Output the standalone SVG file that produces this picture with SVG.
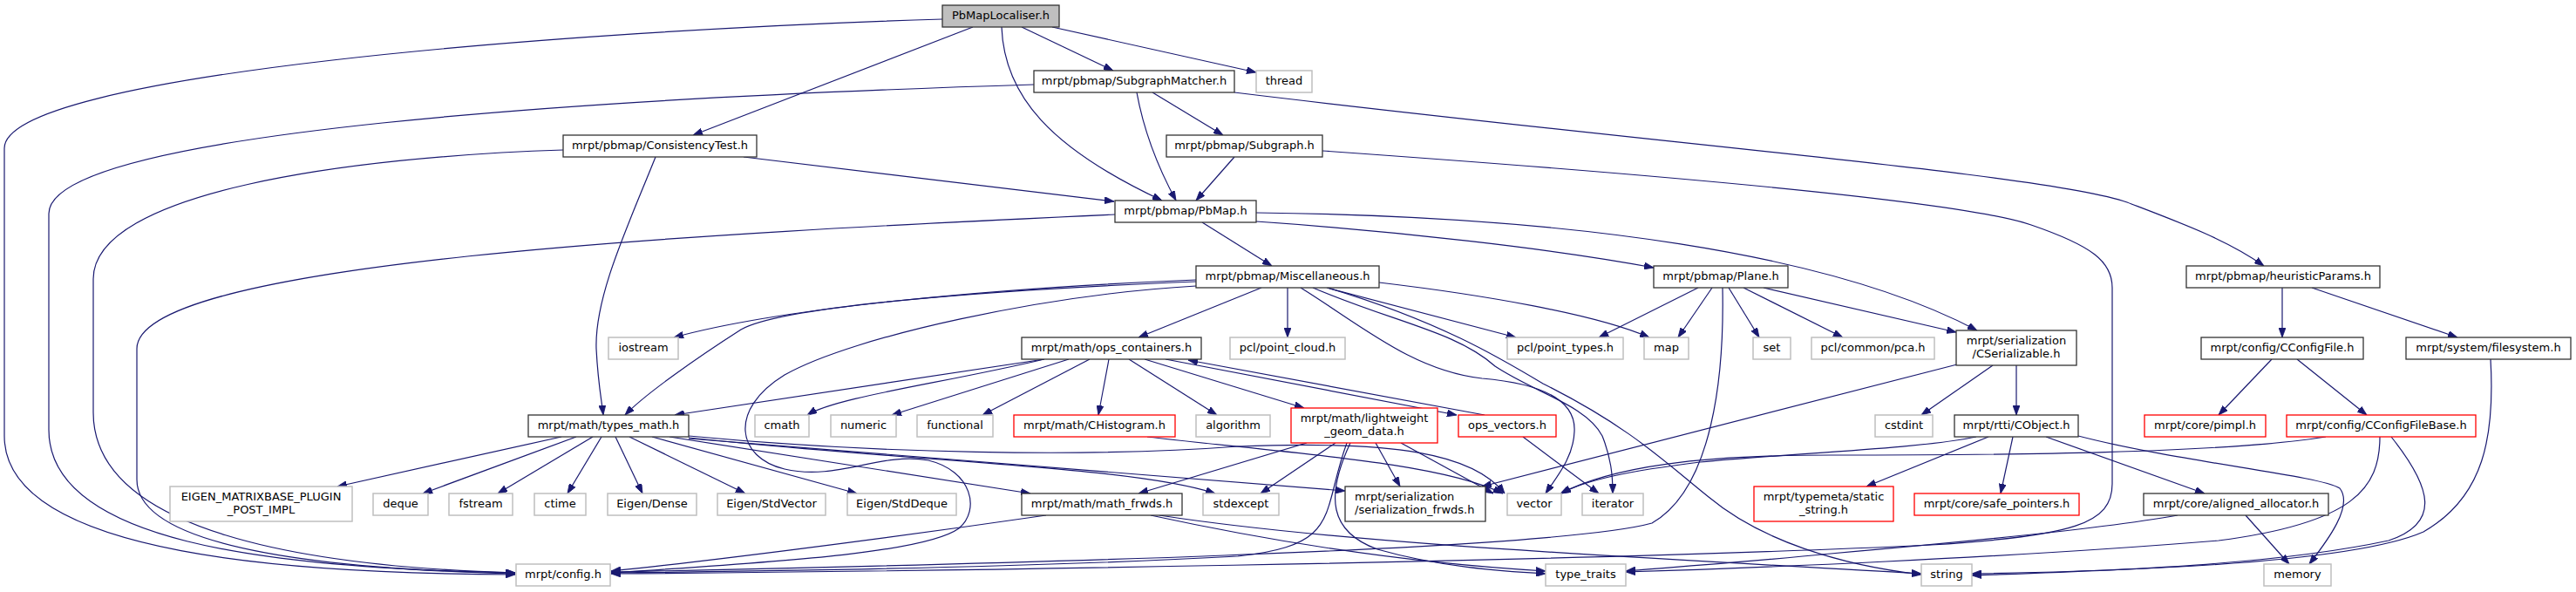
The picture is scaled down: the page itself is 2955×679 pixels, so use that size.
<svg xmlns="http://www.w3.org/2000/svg" width="2955" height="679" viewBox="0 0 2955 679">
<style>
.bg{fill:#ffffff}
.n rect{fill:#ffffff;stroke:#333333;stroke-width:1.3}
.n.root rect{fill:#bfbfbf}
.n.ext rect{stroke:#bfbfbf;stroke-width:1.5}
.n.trunc rect{stroke:#ff0000;stroke-width:1.3}
.n text{font-family:"DejaVu Sans","Liberation Sans",sans-serif;font-size:13px;fill:#000000;text-anchor:middle}
.n text.l{text-anchor:start}
#edges path{fill:none;stroke:#191970;stroke-width:1.2}
</style>
<defs>
<marker id="ah" markerUnits="userSpaceOnUse" markerWidth="11" markerHeight="8" refX="11" refY="4" orient="auto">
<path d="M0,0 L11,4 L0,8 z" fill="#191970" stroke="#191970" stroke-width="0.8"/>
</marker>
</defs>
<rect class="bg" x="0" y="0" width="2955" height="679"/>
<g id="edges" marker-end="url(#ah)">
<path marker-end="url(#ah)" d="M1081,22 C650,35 5,85 5,170 L5,500 C5,640 350,658 591,659"/>
<path marker-end="url(#ah)" d="M1116,31 L795,155"/>
<path marker-end="url(#ah)" d="M1149,31 C1152,110 1205,170 1333,230"/>
<path marker-end="url(#ah)" d="M1172,31 L1277,81"/>
<path marker-end="url(#ah)" d="M1207,31 L1441,83"/>
<path marker-end="url(#ah)" d="M1186,97 C700,112 56,150 56,245 L56,493 C56,620 300,652 591,657"/>
<path marker-end="url(#ah)" d="M1304,106 C1312,150 1330,195 1349,230"/>
<path marker-end="url(#ah)" d="M1322,106 L1403,155"/>
<path marker-end="url(#ah)" d="M1416,106 C1900,165 2350,200 2440,232 C2500,255 2555,275 2597,305"/>
<path marker-end="url(#ah)" d="M646,172 C400,180 107,220 107,320 L107,473 C107,610 350,650 591,657"/>
<path marker-end="url(#ah)" d="M1279,246 C800,268 157,300 157,400 L157,550 C157,625 350,652 591,658"/>
<path marker-end="url(#ah)" d="M853,180 L1278,231"/>
<path marker-end="url(#ah)" d="M752,180 C720,260 682,340 684,400 C686,440 690,458 692,476"/>
<path marker-end="url(#ah)" d="M1416,180 L1372,230"/>
<path marker-end="url(#ah)" d="M1517,173 C1900,200 2250,230 2330,258 C2400,282 2423,300 2423,330 L2423,555 C2423,600 2380,615 2215,625 C1800,645 1000,656 701,658"/>
<path marker-end="url(#ah)" d="M1379,255 L1459,305"/>
<path marker-end="url(#ah)" d="M1441,254 C1600,265 1780,285 1897,307"/>
<path marker-end="url(#ah)" d="M1441,244 C1800,248 2100,290 2268,379"/>
<path marker-end="url(#ah)" d="M1372,321 C1150,330 900,352 773,387"/>
<path marker-end="url(#ah)" d="M1372,323 C1150,332 900,350 850,378 C800,410 740,452 717,476"/>
<path marker-end="url(#ah)" d="M1372,328 C1200,338 980,385 900,430 C835,470 845,525 900,538 C960,552 1010,518 1065,528 C1115,540 1125,585 1100,606 C1060,635 880,645 701,657"/>
<path marker-end="url(#ah)" d="M1447,330 L1306,387"/>
<path marker-end="url(#ah)" d="M1477,330 L1477,387"/>
<path marker-end="url(#ah)" d="M1522,330 L1739,387"/>
<path marker-end="url(#ah)" d="M1582,324 C1700,338 1830,360 1892,387"/>
<path marker-end="url(#ah)" d="M1492,330 C1560,372 1620,425 1700,434 C1770,440 1808,460 1806,495 C1805,525 1785,548 1773,566"/>
<path marker-end="url(#ah)" d="M1506,330 C1600,370 1670,380 1715,420 C1760,450 1820,465 1838,500 C1848,525 1850,545 1850,566"/>
<path marker-end="url(#ah)" d="M1523,330 C1650,368 1720,410 1770,440 C1870,490 1910,530 1960,570 C2020,620 2110,648 2204,659"/>
<path marker-end="url(#ah)" d="M1948,330 L1834,387"/>
<path marker-end="url(#ah)" d="M1964,330 L1925,387"/>
<path marker-end="url(#ah)" d="M1976,330 C1978,430 1965,560 1895,600 C1780,632 1100,648 701,656"/>
<path marker-end="url(#ah)" d="M1983,330 L2018,387"/>
<path marker-end="url(#ah)" d="M2000,330 L2114,387"/>
<path marker-end="url(#ah)" d="M2023,330 L2244,381"/>
<path marker-end="url(#ah)" d="M2245,418 L1700,558"/>
<path marker-end="url(#ah)" d="M2286,419 L2204,476"/>
<path marker-end="url(#ah)" d="M2313,419 L2313,476"/>
<path marker-end="url(#ah)" d="M2618,330 L2618,387"/>
<path marker-end="url(#ah)" d="M2652,330 L2819,387"/>
<path marker-end="url(#ah)" d="M2606,412 L2545,476"/>
<path marker-end="url(#ah)" d="M2635,412 L2715,476"/>
<path marker-end="url(#ah)" d="M2857,412 C2862,500 2850,570 2780,610 C2700,645 2450,655 2262,658"/>
<path marker-end="url(#ah)" d="M2668,501 C2550,520 2300,522 2100,522 C1950,522 1850,535 1790,566"/>
<path marker-end="url(#ah)" d="M2730,501 C2730,560 2700,600 2545,620 C2300,640 2000,652 1865,656"/>
<path marker-end="url(#ah)" d="M2743,501 C2790,560 2800,600 2740,620 C2600,650 2400,655 2262,660"/>
<path marker-end="url(#ah)" d="M2267,501 C2200,515 2050,520 1950,530 C1870,540 1820,550 1791,566"/>
<path marker-end="url(#ah)" d="M2281,501 L2141,558"/>
<path marker-end="url(#ah)" d="M2309,501 L2295,566"/>
<path marker-end="url(#ah)" d="M2347,501 L2529,566"/>
<path marker-end="url(#ah)" d="M2384,500 C2500,530 2660,545 2684,560 C2700,580 2670,620 2649,647"/>
<path marker-end="url(#ah)" d="M2576,591 L2626,647"/>
<path marker-end="url(#ah)" d="M2498,591 C2420,605 2250,622 2100,635 C2000,645 1900,652 1865,655"/>
<path marker-end="url(#ah)" d="M644,501 L387,558"/>
<path marker-end="url(#ah)" d="M661,501 L485,566"/>
<path marker-end="url(#ah)" d="M680,501 L571,566"/>
<path marker-end="url(#ah)" d="M690,501 L651,566"/>
<path marker-end="url(#ah)" d="M706,501 L737,566"/>
<path marker-end="url(#ah)" d="M722,501 L855,566"/>
<path marker-end="url(#ah)" d="M748,501 L983,566"/>
<path marker-end="url(#ah)" d="M768,501 L1182,566"/>
<path marker-end="url(#ah)" d="M790,502 C1050,530 1300,535 1394,566"/>
<path marker-end="url(#ah)" d="M790,500 C1000,520 1250,525 1420,512 C1600,505 1690,520 1726,566"/>
<path marker-end="url(#ah)" d="M790,503 L1543,563"/>
<path marker-end="url(#ah)" d="M1198,412 L774,476"/>
<path marker-end="url(#ah)" d="M1198,412 C1080,440 960,455 926,476"/>
<path marker-end="url(#ah)" d="M1226,412 L1023,476"/>
<path marker-end="url(#ah)" d="M1250,412 L1127,476"/>
<path marker-end="url(#ah)" d="M1272,412 L1260,476"/>
<path marker-end="url(#ah)" d="M1295,412 L1396,476"/>
<path marker-end="url(#ah)" d="M1313,412 L1496,468"/>
<path marker-end="url(#ah)" d="M1337,412 L1671,476"/>
<path marker-end="url(#ah)" d="M1703,476 L1363,413"/>
<path marker-end="url(#ah)" d="M1747,501 L1834,566"/>
<path marker-end="url(#ah)" d="M1316,501 C1480,520 1650,530 1724,566"/>
<path marker-end="url(#ah)" d="M1499,508 L1306,566"/>
<path marker-end="url(#ah)" d="M1532,508 L1446,566"/>
<path marker-end="url(#ah)" d="M1549,508 C1520,570 1525,610 1580,630 C1650,650 1720,655 1773,658"/>
<path marker-end="url(#ah)" d="M1578,508 L1606,558"/>
<path marker-end="url(#ah)" d="M1607,508 L1713,566"/>
<path marker-end="url(#ah)" d="M1545,508 C1515,590 1540,625 1420,638 C1200,650 900,655 701,657"/>
<path marker-end="url(#ah)" d="M1200,591 C1000,620 800,645 701,655"/>
<path marker-end="url(#ah)" d="M1320,591 C1500,630 1650,648 1773,655"/>
<path marker-end="url(#ah)" d="M1330,591 C1550,625 1900,640 2204,658"/>
</g>
<g id="n0" class="n root"><rect x="1081" y="6" width="134" height="25"/><text x="1148" y="22">PbMapLocaliser.h</text></g>
<g id="n1" class="n"><rect x="1186" y="81" width="230" height="25"/><text x="1301" y="97">mrpt/pbmap/SubgraphMatcher.h</text></g>
<g id="n2" class="n ext"><rect x="1441" y="81" width="64" height="25"/><text x="1473" y="97">thread</text></g>
<g id="n3" class="n"><rect x="646" y="155" width="222" height="25"/><text x="757" y="171">mrpt/pbmap/ConsistencyTest.h</text></g>
<g id="n4" class="n"><rect x="1338" y="155" width="179" height="25"/><text x="1427.5" y="171">mrpt/pbmap/Subgraph.h</text></g>
<g id="n5" class="n"><rect x="1279" y="230" width="162" height="25"/><text x="1360" y="246">mrpt/pbmap/PbMap.h</text></g>
<g id="n6" class="n"><rect x="1372" y="305" width="210" height="25"/><text x="1477" y="321">mrpt/pbmap/Miscellaneous.h</text></g>
<g id="n7" class="n"><rect x="1897" y="305" width="154" height="25"/><text x="1974" y="321">mrpt/pbmap/Plane.h</text></g>
<g id="n8" class="n"><rect x="2508" y="305" width="222" height="25"/><text x="2619" y="321">mrpt/pbmap/heuristicParams.h</text></g>
<g id="n9" class="n ext"><rect x="698" y="387" width="80" height="25"/><text x="738" y="403">iostream</text></g>
<g id="n10" class="n"><rect x="1172" y="387" width="206" height="25"/><text x="1275" y="403">mrpt/math/ops_containers.h</text></g>
<g id="n11" class="n ext"><rect x="1411" y="387" width="132" height="25"/><text x="1477" y="403">pcl/point_cloud.h</text></g>
<g id="n12" class="n ext"><rect x="1729" y="387" width="133" height="25"/><text x="1795.5" y="403">pcl/point_types.h</text></g>
<g id="n13" class="n ext"><rect x="1886" y="387" width="51" height="25"/><text x="1911.5" y="403">map</text></g>
<g id="n14" class="n ext"><rect x="2011" y="387" width="43" height="25"/><text x="2032.5" y="403">set</text></g>
<g id="n15" class="n ext"><rect x="2078" y="387" width="141" height="25"/><text x="2148.5" y="403">pcl/common/pca.h</text></g>
<g id="n16" class="n"><rect x="2244" y="379" width="138" height="40"/><text x="2313" y="395">mrpt/serialization</text><text x="2313" y="410">/CSerializable.h</text></g>
<g id="n17" class="n"><rect x="2525" y="387" width="186" height="25"/><text x="2618" y="403">mrpt/config/CConfigFile.h</text></g>
<g id="n18" class="n"><rect x="2760" y="387" width="189" height="25"/><text x="2854.5" y="403">mrpt/system/filesystem.h</text></g>
<g id="n19" class="n"><rect x="606" y="476" width="184" height="25"/><text x="698" y="492">mrpt/math/types_math.h</text></g>
<g id="n20" class="n ext"><rect x="866" y="476" width="62" height="25"/><text x="897" y="492">cmath</text></g>
<g id="n21" class="n ext"><rect x="953" y="476" width="75" height="25"/><text x="990.5" y="492">numeric</text></g>
<g id="n22" class="n ext"><rect x="1052" y="476" width="87" height="25"/><text x="1095.5" y="492">functional</text></g>
<g id="n23" class="n trunc"><rect x="1163" y="476" width="185" height="25"/><text x="1255.5" y="492">mrpt/math/CHistogram.h</text></g>
<g id="n24" class="n ext"><rect x="1372" y="476" width="85" height="25"/><text x="1414.5" y="492">algorithm</text></g>
<g id="n25" class="n trunc"><rect x="1481" y="468" width="168" height="40"/><text x="1565" y="484">mrpt/math/lightweight</text><text x="1565" y="499">_geom_data.h</text></g>
<g id="n26" class="n trunc"><rect x="1673" y="476" width="112" height="25"/><text x="1729" y="492">ops_vectors.h</text></g>
<g id="n27" class="n ext"><rect x="2151" y="476" width="66" height="25"/><text x="2184" y="492">cstdint</text></g>
<g id="n28" class="n"><rect x="2242" y="476" width="142" height="25"/><text x="2313" y="492">mrpt/rtti/CObject.h</text></g>
<g id="n29" class="n trunc"><rect x="2460" y="476" width="139" height="25"/><text x="2529.5" y="492">mrpt/core/pimpl.h</text></g>
<g id="n30" class="n trunc"><rect x="2623" y="476" width="217" height="25"/><text x="2731.5" y="492">mrpt/config/CConfigFileBase.h</text></g>
<g id="n31" class="n ext"><rect x="195" y="558" width="209" height="40"/><text x="299.5" y="574">EIGEN_MATRIXBASE_PLUGIN</text><text x="299.5" y="589">_POST_IMPL</text></g>
<g id="n32" class="n ext"><rect x="428" y="566" width="63" height="25"/><text x="459.5" y="582">deque</text></g>
<g id="n33" class="n ext"><rect x="515" y="566" width="73" height="25"/><text x="551.5" y="582">fstream</text></g>
<g id="n34" class="n ext"><rect x="613" y="566" width="59" height="25"/><text x="642.5" y="582">ctime</text></g>
<g id="n35" class="n ext"><rect x="697" y="566" width="102" height="25"/><text x="748" y="582">Eigen/Dense</text></g>
<g id="n36" class="n ext"><rect x="823" y="566" width="124" height="25"/><text x="885" y="582">Eigen/StdVector</text></g>
<g id="n37" class="n ext"><rect x="972" y="566" width="125" height="25"/><text x="1034.5" y="582">Eigen/StdDeque</text></g>
<g id="n38" class="n"><rect x="1172" y="566" width="184" height="25"/><text x="1264" y="582">mrpt/math/math_frwds.h</text></g>
<g id="n39" class="n ext"><rect x="1380" y="566" width="87" height="25"/><text x="1423.5" y="582">stdexcept</text></g>
<g id="n40" class="n"><rect x="1543" y="558" width="161" height="40"/><text class="l" x="1554" y="574">mrpt/serialization</text><text class="l" x="1554" y="589">/serialization_frwds.h</text></g>
<g id="n41" class="n ext"><rect x="1729" y="566" width="62" height="25"/><text x="1760" y="582">vector</text></g>
<g id="n42" class="n ext"><rect x="1815" y="566" width="70" height="25"/><text x="1850" y="582">iterator</text></g>
<g id="n43" class="n trunc"><rect x="2012" y="558" width="160" height="40"/><text x="2092" y="574">mrpt/typemeta/static</text><text x="2092" y="589">_string.h</text></g>
<g id="n44" class="n trunc"><rect x="2196" y="566" width="189" height="25"/><text x="2290.5" y="582">mrpt/core/safe_pointers.h</text></g>
<g id="n45" class="n"><rect x="2459" y="566" width="212" height="25"/><text x="2565" y="582">mrpt/core/aligned_allocator.h</text></g>
<g id="n46" class="n ext"><rect x="592" y="647" width="108" height="25"/><text x="646" y="663">mrpt/config.h</text></g>
<g id="n47" class="n ext"><rect x="1773" y="647" width="92" height="25"/><text x="1819" y="663">type_traits</text></g>
<g id="n48" class="n ext"><rect x="2204" y="647" width="58" height="25"/><text x="2233" y="663">string</text></g>
<g id="n49" class="n ext"><rect x="2597" y="647" width="77" height="25"/><text x="2635.5" y="663">memory</text></g>
</svg>
